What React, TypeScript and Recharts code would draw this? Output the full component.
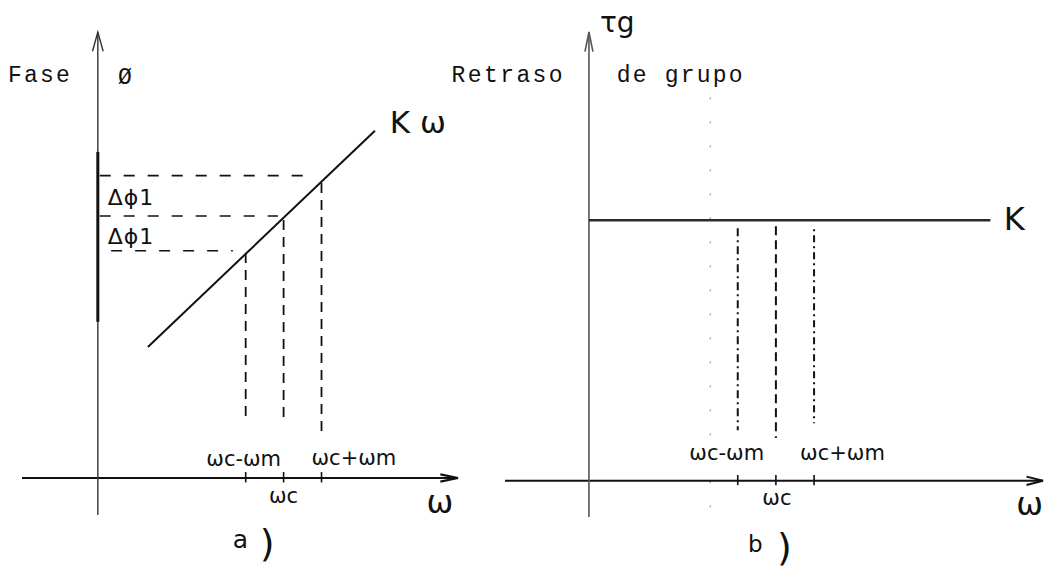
import React from "react";
import { LineChart, Line, XAxis, YAxis, ReferenceLine, ReferenceDot } from "recharts";

const W = 1055;
const H = 568;
const MONO = "'Liberation Mono', 'DejaVu Sans Mono', monospace";
const HAND = "'DejaVu Sans', 'Liberation Sans', sans-serif";
const INK = "#111";

// Frequency marks shared by both panels (ω units)
const omegaTicks = [3.9, 4.9, 5.9];
const omegaTickLabels = ["ωc-ωm", "ωc", "ωc+ωm"];

// (a) Phase φ(ω) = φ0 + Kω, drawn between its two end points
const phaseOmega = [1.32, 7.31];
const phaseValues = [3.54, 9.38];
// Phase levels read at ωc-ωm, ωc, ωc+ωm (horizontal guides)
const phaseLevels = [6.14, 7.08, 8.17];
const phaseGuideStart = [0.35, 0.05, 0.05];
const phaseGuideEnd = [3.56, 4.75, 5.67];
// Vertical guides under the phase line
const phaseDropTop = [6.08, 6.97, 7.97];
const phaseDropBottom = [1.57, 1.49, 1.22];
// Heavier stretch of the phase axis
const phaseAxisBold = [4.22, 8.81];

// (b) Group delay τg = K (constant)
const delayOmega = [0, 10.52];
const groupDelay = 7.2;
const delayDropTop = [6.98, 7.03, 6.95];
const delayDropBottom = [1.4, 1.18, 1.59];
const pencilOmega = 3.18;
const pencilSpan = [-0.97, 10.6];

const phaseData = phaseOmega.map((w, i) => ({ w, v: phaseValues[i] }));
const delayData = delayOmega.map((w) => ({ w, v: groupDelay }));

// Axis line with an open arrow head at its far end
const Arrow = (p: any) => {
  const { x1, y1, x2, y2, stroke, strokeWidth, head = 18, spread = 0.24 } = p;
  const a = Math.atan2(y2 - y1, x2 - x1);
  const lx = x2 - head * Math.cos(a - spread);
  const ly = y2 - head * Math.sin(a - spread);
  const rx = x2 - head * Math.cos(a + spread);
  const ry = y2 - head * Math.sin(a + spread);
  return (
    <g>
      <line x1={x1} y1={y1} x2={x2} y2={y2} stroke={stroke} strokeWidth={strokeWidth} />
      <polyline
        points={`${lx},${ly} ${x2},${y2} ${rx},${ry}`}
        fill="none"
        stroke={stroke}
        strokeWidth={strokeWidth}
      />
    </g>
  );
};

type CaptionProps = {
  viewBox?: any;
  text: string;
  dx?: number;
  dy?: number;
  anchor?: string;
  size?: number;
  family?: string;
  spacing?: number;
  weight?: number;
};

const Caption = ({ viewBox, text, dx = 0, dy = 0, anchor = "start", size = 22, family = HAND, spacing = 0, weight = 400 }: CaptionProps) => {
  const x = (viewBox?.x ?? 0) + dx;
  const y = (viewBox?.y ?? 0) + dy;
  return (
    <text
      x={x}
      y={y}
      textAnchor={anchor as any}
      fontSize={size}
      fontFamily={family}
      fontWeight={weight}
      letterSpacing={spacing}
      fill={INK}
    >
      {text}
    </text>
  );
};

type Note = { w: number; v: number; text: string; size: number; family?: string; spacing?: number; anchor?: string; weight?: number };

// Text placed in each panel's own coordinates
const phaseNotes: Note[] = [
  { w: -2.37, v: 10.7, text: "Fase", size: 23, family: MONO, spacing: 2.2 },
  { w: 0.53, v: 10.65, text: "Ø", size: 23, family: MONO },
  { w: 7.7, v: 9.32, text: "K ω", size: 31 },
  { w: 0.26, v: 7.38, text: "Δϕ1", size: 22, spacing: 1 },
  { w: 0.26, v: 6.33, text: "Δϕ1", size: 22, spacing: 1 },
  { w: 9.02, v: -0.95, text: "ω", size: 32, anchor: "middle" },
  { w: 3.56, v: -1.89, text: "a", size: 25 },
  { w: 4.27, v: -2.11, text: ")", size: 38 },
];

const delayNotes: Note[] = [
  { w: -3.6, v: 11.02, text: "Retraso", size: 23, family: MONO, spacing: 2.4 },
  { w: 0.73, v: 11.02, text: "de grupo", size: 23, family: MONO, spacing: 2.2 },
  { w: 0.29, v: 12.4, text: "τg", size: 28 },
  { w: 10.87, v: 6.93, text: "K", size: 32 },
  { w: 11.55, v: -0.94, text: "ω", size: 32, anchor: "middle" },
  { w: 4.17, v: -1.97, text: "b", size: 23 },
  { w: 4.93, v: -2.19, text: ")", size: 38 },
];

// Offsets of the frequency labels from their tick marks
const phaseTickText = [
  { dx: -2, dy: -12, anchor: "middle" },
  { dx: 0, dy: 25, anchor: "middle" },
  { dx: -10, dy: -13, anchor: "start" },
];
const delayTickText = [
  { dx: -11, dy: -21, anchor: "middle" },
  { dx: 1, dy: 24, anchor: "middle" },
  { dx: -14, dy: -21, anchor: "start" },
];

const renderNotes = (notes: Note[], prefix: string) =>
  notes.map((n, i) => (
    <ReferenceDot
      key={`${prefix}-note-${i}`}
      x={n.w}
      y={n.v}
      r={0}
      fill="none"
      stroke="none"
      ifOverflow="visible"
      label={
        <Caption
          text={n.text}
          size={n.size}
          family={n.family ?? HAND}
          spacing={n.spacing ?? 0}
          anchor={n.anchor ?? "start"}
          weight={n.weight ?? 400}
        />
      }
    />
  ));

const renderTicks = (prefix: string, offsets: { dx: number; dy: number; anchor: string }[]) =>
  omegaTicks.map((t, i) => (
    <React.Fragment key={`${prefix}-tick-${i}`}>
      <ReferenceLine
        segment={[{ x: t, y: -0.12 }, { x: t, y: 0.16 }]}
        stroke={INK}
        strokeWidth={1.6}
        ifOverflow="visible"
      />
      <ReferenceDot
        x={t}
        y={0}
        r={0}
        fill="none"
        stroke="none"
        ifOverflow="visible"
        label={<Caption text={omegaTickLabels[i]} dx={offsets[i].dx} dy={offsets[i].dy} anchor={offsets[i].anchor} size={21} />}
      />
    </React.Fragment>
  ));

const PhasePanel = () => (
  <LineChart width={W} height={H} margin={{ top: 32, right: 597, bottom: 53, left: 22 }}>
    <XAxis type="number" dataKey="w" domain={[-2, 9.5]} allowDataOverflow hide />
    <YAxis type="number" dataKey="v" domain={[-1, 12.05]} allowDataOverflow hide />
    {/* axes */}
    <ReferenceLine
      segment={[{ x: -2, y: 0 }, { x: 9.5, y: 0 }]}
      stroke={INK}
      strokeWidth={2.2}
      ifOverflow="visible"
      shape={(p: any) => <Arrow {...p} head={18} spread={0.2} />}
    />
    <ReferenceLine
      segment={[{ x: 0, y: -1 }, { x: 0, y: 12.05 }]}
      stroke="#333"
      strokeWidth={1.4}
      ifOverflow="visible"
      shape={(p: any) => <Arrow {...p} head={20} spread={0.27} />}
    />
    <ReferenceLine
      segment={[{ x: 0, y: phaseAxisBold[0] }, { x: 0, y: phaseAxisBold[1] }]}
      stroke={INK}
      strokeWidth={3}
      ifOverflow="visible"
    />
    {/* horizontal phase guides */}
    {phaseLevels.map((lv, i) => (
      <ReferenceLine
        key={`ph-h-${i}`}
        segment={[{ x: phaseGuideStart[i], y: lv }, { x: phaseGuideEnd[i], y: lv }]}
        stroke={INK}
        strokeWidth={1.6}
        strokeDasharray="11 13"
        ifOverflow="visible"
      />
    ))}
    {/* vertical guides */}
    {omegaTicks.map((t, i) => (
      <ReferenceLine
        key={`ph-v-${i}`}
        segment={[{ x: t, y: phaseDropTop[i] }, { x: t, y: phaseDropBottom[i] }]}
        stroke={INK}
        strokeWidth={1.8}
        strokeDasharray="10 7"
        ifOverflow="visible"
      />
    ))}
    {renderTicks("ph", phaseTickText)}
    <Line
      data={phaseData}
      dataKey="v"
      type="linear"
      stroke={INK}
      strokeWidth={2}
      dot={false}
      activeDot={false}
      isAnimationActive={false}
    />
    {renderNotes(phaseNotes, "ph")}
  </LineChart>
);

const DelayPanel = () => (
  <LineChart width={W} height={H} margin={{ top: 32, right: 12, bottom: 51, left: 505 }}>
    <XAxis type="number" dataKey="w" domain={[-2.2, 11.9]} allowDataOverflow hide />
    <YAxis type="number" dataKey="v" domain={[-1, 12.4]} allowDataOverflow hide />
    {/* pencil guide */}
    <ReferenceLine
      segment={[{ x: pencilOmega, y: pencilSpan[1] }, { x: pencilOmega, y: pencilSpan[0] }]}
      stroke="#9a9a9a"
      strokeWidth={1.2}
      strokeDasharray="2 22"
      ifOverflow="visible"
    />
    {/* axes */}
    <ReferenceLine
      segment={[{ x: -2.2, y: 0 }, { x: 11.9, y: 0 }]}
      stroke={INK}
      strokeWidth={2}
      ifOverflow="visible"
      shape={(p: any) => <Arrow {...p} head={17} spread={0.25} />}
    />
    <ReferenceLine
      segment={[{ x: 0, y: -1 }, { x: 0, y: 12.4 }]}
      stroke="#555"
      strokeWidth={1.6}
      ifOverflow="visible"
      shape={(p: any) => <Arrow {...p} head={20} spread={0.2} />}
    />
    {/* dashed markers at ωc-ωm, ωc, ωc+ωm */}
    {omegaTicks.map((t, i) => (
      <ReferenceLine
        key={`gd-v-${i}`}
        segment={[{ x: t, y: delayDropTop[i] }, { x: t, y: delayDropBottom[i] }]}
        stroke={INK}
        strokeWidth={2}
        strokeDasharray={["8 4 2 4", "9 5", "2 4 7 4"][i]}
        ifOverflow="visible"
      />
    ))}
    {renderTicks("gd", delayTickText)}
    <Line
      data={delayData}
      dataKey="v"
      type="linear"
      stroke="#2a2a2a"
      strokeWidth={2.4}
      dot={false}
      activeDot={false}
      isAnimationActive={false}
    />
    {renderNotes(delayNotes, "gd")}
  </LineChart>
);

export default function App() {
  return (
    <div style={{ position: "absolute", left: 0, top: 0, width: W, height: H, background: "#fff", overflow: "hidden" }}>
      <div style={{ position: "absolute", left: 0, top: 0 }}>
        <PhasePanel />
      </div>
      <div style={{ position: "absolute", left: 0, top: 0 }}>
        <DelayPanel />
      </div>
    </div>
  );
}
